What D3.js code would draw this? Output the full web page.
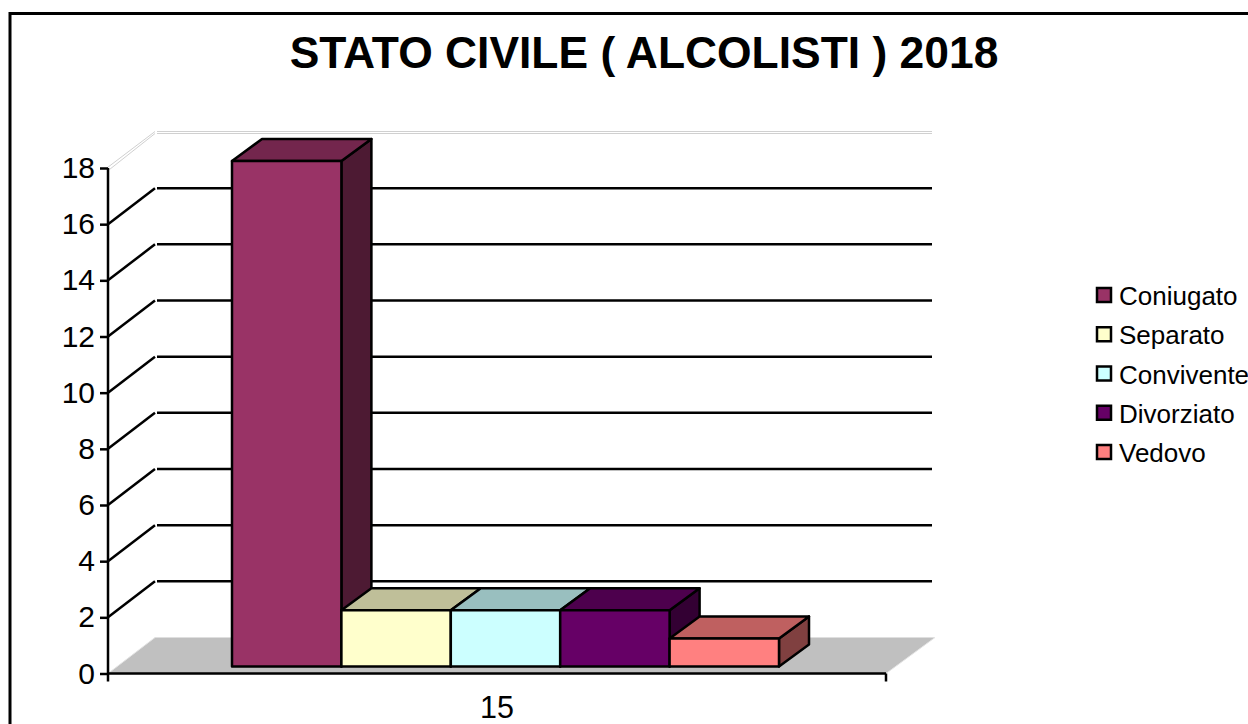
<!DOCTYPE html>
<html><head><meta charset="utf-8">
<script src="https://cdn.jsdelivr.net/npm/d3@7/dist/d3.min.js"></script>
<style>html,body{margin:0;padding:0;background:#fff;overflow:hidden}svg{display:block}text{font-family:"Liberation Sans",Arial,sans-serif;fill:#000}</style>
</head><body><svg id="c" width="1248" height="724"></svg>
<script>
const titleText = "STATO CIVILE ( ALCOLISTI ) 2018";
const seriesNames = ["Coniugato","Separato","Convivente","Divorziato","Vedovo"];
const seriesValues = [18,2,2,2,1];
const seriesColors = ["#993366","#FFFFCC","#CCFFFF","#660066","#FF8080"];
const yTicks = [0,2,4,6,8,10,12,14,16,18];
const categoryLabels = ["15"];

const svg = d3.select("#c");
const y = d3.scaleLinear().domain([0,18]).range([673.5,168]);
const xCat = d3.scaleBand().domain(categoryLabels).range([108,886]);
const xSer = d3.scaleBand().domain(seriesNames).range([232,779]);
const wall = {dx:47, dy:-36}, depth = {dx:30, dy:-22}, barOff = {dy:-7};
const line = d3.line();
const sw = 2.5;

svg.append("rect").attr("x",10).attr("y",13.5).attr("width",1300).attr("height",800)
  .attr("fill","#fff").attr("stroke","#000").attr("stroke-width",3);

svg.append("text").attr("x",644).attr("y",68).attr("text-anchor","middle")
  .attr("font-size",44.4).attr("font-weight","bold").text(titleText);

const x0 = xCat.range()[0], x1 = xCat.range()[1];
// floor
svg.append("path").attr("fill","#C0C0C0")
  .attr("d", line([[x0,y(0)],[x0+wall.dx,y(0)+wall.dy],[x1+wall.dx+2,y(0)+wall.dy],[x1,y(0)]])+"Z");
svg.append("path").attr("fill","none").attr("stroke","#e4e4e4").attr("stroke-width",1)
  .attr("d", line([[x0,y(0)],[x0+wall.dx,y(0)+wall.dy]]));
svg.append("path").attr("fill","none").attr("stroke","#e4e4e4").attr("stroke-width",1)
  .attr("d", line([[x1,y(0)],[x1+wall.dx+2,y(0)+wall.dy]]));

// gridlines
yTicks.filter(t=>t>0).forEach(t=>{
  const top = t===18;
  const col = top ? "#d0d0d0" : "#000";
  const w = top ? 1 : sw;
  (top ? [-0.5,1.5] : [0]).forEach(o=>{
    svg.append("path").attr("fill","none").attr("stroke",col).attr("stroke-width",w)
      .attr("d", line([[x0+(top?o:0),y(t)+o],[x0+wall.dx,y(t)+wall.dy+o]]));
    svg.append("path").attr("fill","none").attr("stroke",col).attr("stroke-width",w)
      .attr("d", line([[x0+wall.dx+2,y(t)+wall.dy+o],[x1+wall.dx-1,y(t)+wall.dy+o]]));
  });
});

// axes
const axisY = d3.axisLeft(y).tickValues(yTicks).tickSize(8).tickPadding(5).tickFormat(d3.format("d"));
const gy = svg.append("g").attr("transform",`translate(${x0},0)`).call(axisY);
gy.selectAll("path,line").attr("stroke","#000").attr("stroke-width",sw);
gy.select("path.domain").attr("d",`M0,${y(18)}V${y(0)}`);
gy.selectAll("text").attr("font-size",30).attr("font-family",'"Liberation Sans",Arial,sans-serif').attr("fill","#000");

const axisX = d3.axisBottom(xCat).tickSize(0).tickPadding(23);
const gx = svg.append("g").attr("transform",`translate(0,${y(0)})`).call(axisX);
gx.select("path.domain").attr("stroke","#000").attr("stroke-width",sw)
  .attr("d",`M${x0},0H${x1}M${x0},0V8M${x1},0V8`);
gx.selectAll("text").attr("font-size",30.5).attr("font-family",'"Liberation Sans",Arial,sans-serif').attr("fill","#000");

// bars
const base = y(0)+barOff.dy;
const h = v => y(0)-y(v);
const shade = (c,k)=>{const r=d3.rgb(c);return d3.rgb(r.r*k,r.g*k,r.b*k).formatHex();};
const bars = svg.append("g").selectAll("g")
  .data(seriesNames.map((n,i)=>({n,v:seriesValues[i],c:seriesColors[i]})))
  .join("g").attr("stroke","#000").attr("stroke-width",sw).attr("stroke-linejoin","round");
bars.append("path").attr("fill",d=>shade(d.c,.5)).attr("d",d=>{
  const r=xSer(d.n)+xSer.bandwidth(), t=base-h(d.v);
  return line([[r,t],[r+depth.dx,t+depth.dy],[r+depth.dx,base+depth.dy],[r,base]])+"Z";});
bars.append("path").attr("fill",d=>shade(d.c,.75)).attr("d",d=>{
  const l=xSer(d.n), r=l+xSer.bandwidth(), t=base-h(d.v);
  return line([[l,t],[l+depth.dx,t+depth.dy],[r+depth.dx,t+depth.dy],[r,t]])+"Z";});
bars.append("rect").attr("fill",d=>d.c)
  .attr("x",d=>xSer(d.n)).attr("width",xSer.bandwidth())
  .attr("y",d=>base-h(d.v)).attr("height",d=>h(d.v));

// legend
const ly = d3.scalePoint().domain(seriesNames).range([295,452]);
const lg = svg.append("g").selectAll("g").data(seriesNames).join("g")
  .attr("transform",d=>`translate(1097,${ly(d)})`);
lg.append("rect").attr("x",0).attr("y",-7).attr("width",14).attr("height",14)
  .attr("fill",(d,i)=>seriesColors[i]).attr("stroke","#000").attr("stroke-width",sw);
lg.append("text").attr("x",22).attr("y",10).attr("font-size",26).text(d=>d);
</script></body></html>
